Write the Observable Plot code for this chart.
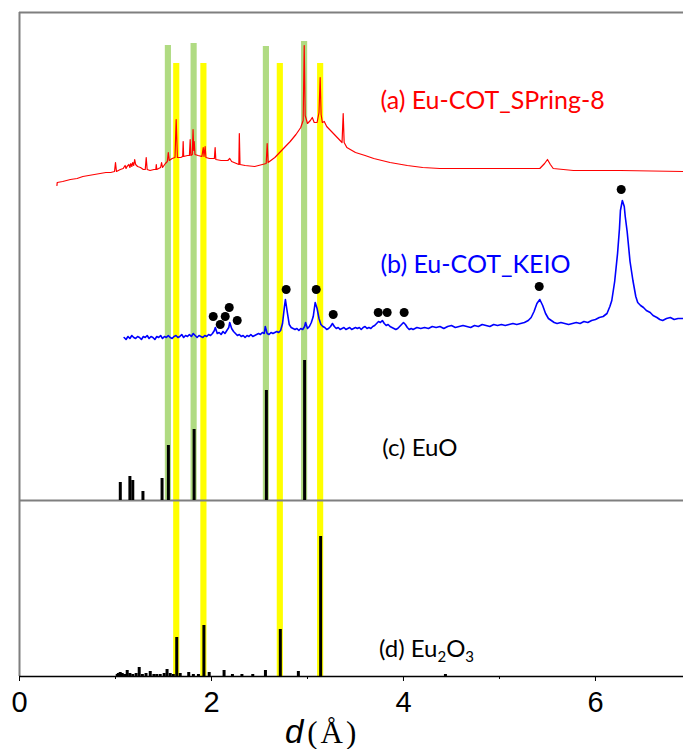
<!DOCTYPE html>
<html><head><meta charset="utf-8">
<script src="https://cdn.jsdelivr.net/npm/d3@7"></script>
<script src="https://cdn.jsdelivr.net/npm/@observablehq/plot@0.6"></script>
<style>body{margin:0;background:#fff}#chart svg{display:block}</style>
</head><body><div id="chart"></div>
<script>
// ---- data ----
const euoBandD   = [1.551, 1.819, 2.572, 2.970];          // green bands (EuO)
const eu2o3BandD = [1.638, 1.921, 2.717, 3.137];          // yellow bands (Eu2O3)
const euoBandTop = [631, 633, 630, 635];

const euoStickD = [1.050, 1.150, 1.180, 1.286, 1.485, 1.551, 1.819, 2.572, 2.970];
const euoStickI = [18, 24, 20, 9, 22, 55, 71, 110, 140];

const eu2o3StickD = [1.018, 1.030, 1.049, 1.070, 1.095, 1.122, 1.150, 1.180, 1.215, 1.247, 1.280, 1.318, 1.362, 1.400, 1.430, 1.466, 1.507, 1.537, 1.570, 1.602, 1.638, 1.674, 1.763, 1.811, 1.864, 1.921, 1.976, 2.131, 2.218, 2.317, 2.430, 2.562, 2.717, 2.905, 3.137, 4.437];
const eu2o3StickI = [2, 3, 4, 3, 2, 6, 3, 2, 3, 9, 2, 3, 5, 2, 2, 2, 3, 7, 3, 2, 39, 3, 4, 2, 2, 51, 4, 6, 2, 2, 2, 6, 47, 5, 140, 2];

const redD = [0.39,0.393,0.45,0.53,0.6,0.66,0.72,0.78,0.84,0.9,0.95,0.99,1.0,1.01,1.05,1.08,1.10,1.11,1.12,1.14,1.15,1.16,1.17,1.18,1.19,1.20,1.21,1.23,1.26,1.29,1.31,1.32,1.33,1.36,1.40,1.42,1.425,1.43,1.47,1.48,1.49,1.52,1.54,1.55,1.56,1.59,1.62,1.632,1.645,1.68,1.70,1.705,1.71,1.75,1.77,1.778,1.785,1.80,1.808,1.815,1.82,1.828,1.86,1.90,1.914,1.922,1.934,1.942,1.98,2.03,2.038,2.045,2.10,2.17,2.19,2.21,2.26,2.285,2.29,2.297,2.35,2.45,2.53,2.57,2.58,2.59,2.66,2.75,2.82,2.88,2.93,2.955,2.966,2.976,3.00,3.03,3.05,3.07,3.10,3.12,3.132,3.142,3.155,3.175,3.20,3.27,3.32,3.36,3.372,3.382,3.41,3.50,3.60,3.69,3.86,4.04,4.20,4.38,4.73,5.11,5.42,5.47,5.50,5.53,5.56,5.77,6.26,6.917];
const redI = [1,4,5,7,8,10,11,12,13,14,14,15,24,15,17,18,21,18,20,22,19,23,20,24,21,27,22,20,19,17,17,29,17,16,17,17,22,17,19,24,19,23,25,34,26,28,29,67,29,29,30,45,30,31,31,47,31,32,57,36,45,32,31,30,39,30,40,29,28,28,39,27,26,26,28,25,23,22,53,22,21,20,22,23,43,24,29,38,45,52,59,66,141,71,63,66,69,64,64,74,109,72,64,65,60,53,48,44,73,44,39,34,31,28,24,21,19,18,18,18,18,23,27,22,18,16,16,15];

const blueD = [1.09,1.11,1.13,1.15,1.17,1.19,1.21,1.23,1.25,1.27,1.29,1.31,1.33,1.35,1.37,1.39,1.41,1.43,1.45,1.47,1.49,1.51,1.53,1.55,1.57,1.59,1.61,1.63,1.65,1.67,1.69,1.71,1.73,1.75,1.77,1.79,1.81,1.83,1.85,1.87,1.89,1.91,1.93,1.95,1.97,1.99,2.01,2.03,2.04,2.06,2.08,2.10,2.12,2.14,2.16,2.18,2.19,2.21,2.23,2.25,2.27,2.29,2.31,2.33,2.35,2.37,2.39,2.41,2.43,2.45,2.47,2.49,2.51,2.53,2.55,2.56,2.58,2.60,2.62,2.64,2.66,2.68,2.70,2.72,2.74,2.76,2.77,2.79,2.81,2.83,2.85,2.87,2.89,2.91,2.93,2.95,2.97,2.98,3.00,3.02,3.04,3.06,3.08,3.10,3.12,3.14,3.16,3.18,3.20,3.22,3.24,3.26,3.28,3.30,3.32,3.34,3.36,3.38,3.40,3.42,3.44,3.46,3.48,3.50,3.52,3.54,3.56,3.58,3.60,3.62,3.64,3.66,3.68,3.70,3.72,3.74,3.76,3.78,3.80,3.82,3.84,3.86,3.88,3.90,3.92,3.94,3.96,3.98,4.00,4.02,4.04,4.06,4.08,4.10,4.14,4.18,4.22,4.26,4.30,4.34,4.38,4.42,4.46,4.50,4.54,4.58,4.62,4.66,4.70,4.74,4.78,4.82,4.86,4.90,4.94,4.98,5.02,5.06,5.10,5.14,5.18,5.22,5.26,5.30,5.33,5.36,5.39,5.42,5.45,5.48,5.51,5.54,5.57,5.60,5.64,5.68,5.72,5.76,5.80,5.84,5.88,5.92,5.96,6.00,6.04,6.08,6.12,6.15,6.17,6.20,6.23,6.25,6.26,6.28,6.30,6.31,6.33,6.34,6.36,6.39,6.42,6.44,6.47,6.50,6.53,6.57,6.60,6.64,6.67,6.70,6.74,6.78,6.82,6.86,6.917];
const blueI = [9,7,10,8,11,9,8,10,9,7,10,9,11,8,10,9,7,10,9,11,8,10,9,11,9,8,10,11,9,10,12,9,11,10,12,10,13,11,9,11,10,9,11,10,12,11,13,16,19,13,14,12,15,13,16,19,24,18,15,13,11,12,10,11,9,11,10,12,10,11,12,13,12,14,13,20,13,12,14,13,14,15,14,16,23,40,47,34,22,19,18,17,18,16,18,17,20,24,18,20,24,30,44,38,28,22,20,19,17,18,20,23,20,18,19,17,18,19,17,18,19,17,18,19,18,19,17,19,20,18,19,18,20,21,23,25,24,26,23,21,22,20,19,18,17,18,20,22,24,22,19,17,18,17,19,18,19,18,20,19,20,18,20,21,19,20,21,20,19,21,20,22,21,20,22,21,22,21,22,23,22,23,24,26,29,35,43,47,41,33,28,26,24,23,24,23,22,23,24,23,25,24,26,27,29,30,33,40,46,65,93,118,136,146,140,130,115,105,85,66,50,44,41,39,36,34,31,29,27,26,28,29,27,28,28];

const dotD = [2.018, 2.091, 2.143, 2.185, 2.268, 2.778, 3.091, 3.268, 3.737, 3.830, 4.007, 5.414, 6.268];
const dotI = [30, 22, 30, 39, 26, 57, 57, 32, 34, 34, 34, 60, 157];

const labelTexts = ["(a) Eu-COT_SPring-8", "(b) Eu-COT_KEIO", "(c) EuO"];
const xMajorTicks = [0, 2, 4, 6];
const xMinorTicks = [1, 3, 5];

// ---- layout constants ----
const W = 683, H = 749;
const yMax = 664, xMax = 6.917;
const bandHalf = 0.032;
const yellowTop = 613, euoBase = 176, redOffset = 490, blueOffset = 330;
const labelFont = "Lato, 'Open Sans', sans-serif";

const bandsG = euoBandD.map((d, i) => ({d, top: euoBandTop[i]}));
const euo = euoStickD.map((d, i) => ({d, h: euoStickI[i]}));
const eu2o3 = eu2o3StickD.map((d, i) => ({d, h: eu2o3StickI[i]}));
const red = redD.map((d, i) => ({d, v: redI[i]}));
const blue = blueD.map((d, i) => ({d, v: blueI[i]}));
const dots = dotD.map((d, i) => ({d, v: dotI[i]}));

const plot = Plot.plot({
  width: W, height: H,
  marginLeft: 19, marginRight: 0, marginTop: 12, marginBottom: 73,
  x: {domain: [0, xMax]},
  y: {domain: [0, yMax], axis: null},
  style: {background: "white"},
  marks: [
    Plot.rect(bandsG, {x1: d => d.d - bandHalf, x2: d => d.d + bandHalf, y1: euoBase, y2: "top", fill: "#b0db82"}),
    Plot.rect(eu2o3BandD, {x1: d => d - bandHalf, x2: d => d + bandHalf, y1: 0, y2: yellowTop, fill: "#ffff00"}),
    Plot.ruleY([euoBase], {stroke: "#7f7f7f", strokeWidth: 2}),
    Plot.ruleY([yMax], {stroke: "#7f7f7f", strokeWidth: 2}),
    Plot.ruleX([0], {stroke: "#7f7f7f", strokeWidth: 2}),
    Plot.ruleX(euo, {x: "d", y1: euoBase, y2: d => euoBase + d.h, stroke: "black", strokeWidth: 3}),
    Plot.ruleX(eu2o3, {x: "d", y1: 0, y2: "h", stroke: "black", strokeWidth: 3}),
    Plot.line(red, {x: "d", y: d => redOffset + d.v, stroke: "#ff0000", strokeWidth: 1.2}),
    Plot.line(blue, {x: "d", y: d => blueOffset + d.v, stroke: "#0000ff", strokeWidth: 1.6}),
    Plot.dot(dots, {x: "d", y: d => blueOffset + d.v, r: 4.5, fill: "black"}),
    Plot.ruleY([0], {stroke: "black", strokeWidth: 1.5}),
    Plot.axisX(xMajorTicks, {tickSize: 5, tickPadding: 10, fontSize: 29, fontFamily: "'Liberation Sans', Arial, sans-serif", label: null, stroke: "black"}),
    Plot.axisX(xMinorTicks, {tickSize: 3, tickFormat: () => "", label: null, stroke: "black"}),
    Plot.text([labelTexts[0]], {x: 3.76, y: 568, text: d => d, textAnchor: "start", lineAnchor: "bottom", fill: "#ff0000", fontSize: 25, fontFamily: labelFont}),
    Plot.text([labelTexts[1]], {x: 3.76, y: 404, text: d => d, textAnchor: "start", lineAnchor: "bottom", fill: "#0000ff", fontSize: 25, fontFamily: labelFont}),
    Plot.text([labelTexts[2]], {x: 3.78, y: 221, text: d => d, textAnchor: "start", lineAnchor: "bottom", fill: "black", fontSize: 24, fontFamily: labelFont})
  ]
});

const sx = plot.scale("x"), sy = plot.scale("y");
const svg = d3.select(plot);
// (d) Eu2O3 label with subscripts
const t = svg.append("text")
  .attr("x", sx.apply(3.75)).attr("y", sy.apply(19)).attr("text-anchor", "start")
  .attr("font-family", labelFont).attr("font-size", 24).attr("fill", "black");
t.append("tspan").text("(d) Eu");
t.append("tspan").text("2").attr("font-size", 15).attr("dy", 5);
t.append("tspan").text("O").attr("dy", -5);
t.append("tspan").text("3").attr("font-size", 15).attr("dy", 5);
// axis title d(Å)
const a = svg.append("text")
  .attr("x", sx.apply(2.77)).attr("y", 743).attr("text-anchor", "start").attr("fill", "black");
a.append("tspan").text("d").attr("font-family", "'Liberation Sans', Arial, sans-serif").attr("font-style", "italic").attr("font-size", 33);
a.append("tspan").text("(Å)").attr("font-family", "'Liberation Serif', 'Times New Roman', serif").attr("font-size", 31).attr("dx", 4).attr("letter-spacing", 3);

document.getElementById("chart").append(plot);
</script>
</body></html>
